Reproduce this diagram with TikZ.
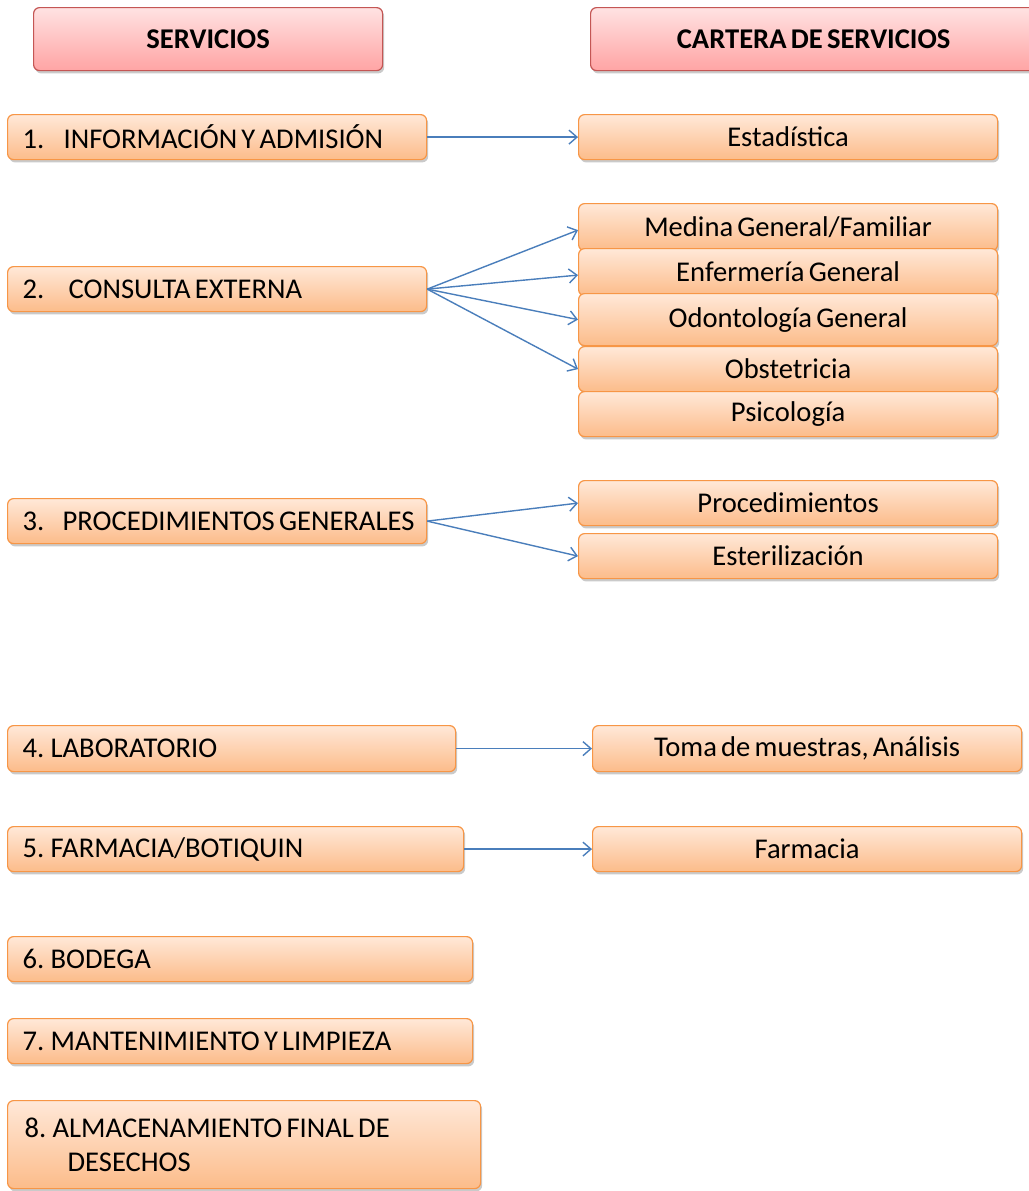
\documentclass[tikz,border=0pt]{standalone}
\usepackage{fontspec}
\setmainfont{Carlito}[WordSpace=0.65]
\usetikzlibrary{%
  arrows.meta,%
  shadows,%
  positioning%
}
\definecolor{boxline}{RGB}{247,150,70}
\definecolor{boxtop}{RGB}{255,232,216}
\definecolor{boxbottom}{RGB}{252,188,138}
\definecolor{hdrline}{RGB}{196,86,84}
\definecolor{hdrtop}{RGB}{255,226,226}
\definecolor{hdrbottom}{RGB}{255,164,164}
\definecolor{linkblue}{RGB}{74,126,187}

\begin{document}
\begin{tikzpicture}
[x=0.5pt, y=-0.5pt, line width=0.6pt,
font=\fontsize{14.3}{17}\selectfont,
servbox/.style={rectangle, draw=boxline, rounded corners=3pt, top color=boxtop, bottom color=boxbottom,
  drop shadow={shadow xshift=0.8pt, shadow yshift=-1.4pt, opacity=0.35, fill=black!60},
  anchor=north west, inner sep=0pt, minimum height=22.5pt},
leftbox/.style={servbox, align=flush left, inner xsep=7.5pt, text width=#1},
hdrbox/.style={servbox, draw=hdrline, top color=hdrtop, bottom color=hdrbottom, minimum height=31.5pt, font=\fontsize{14.3}{17}\selectfont\bfseries},
link/.style={draw=linkblue, line width=0.7pt, -{Straight Barb[length=4pt, width=7pt]}}]

\useasboundingbox (0,0) rectangle (1029,1191);

% headers
\node[hdrbox, minimum width=174.5pt] (servicios) at (33,7) {SERVICIOS};
\node[hdrbox, minimum width=223pt] (cartera) at (590,7) {CARTERA DE SERVICIOS};

% left column
\node[leftbox=194.5pt] (info) at (7,114) {\mbox{\makebox[20.5pt][l]{1.}INFORMACIÓN Y ADMISIÓN}};
\node[leftbox=194.5pt] (consulta) at (7,266) {\mbox{\makebox[23pt][l]{2.}CONSULTA EXTERNA}};
\node[leftbox=194.5pt] (proced) at (7,498) {\mbox{\makebox[20pt][l]{3.}PROCEDIMIENTOS GENERALES}};
\node[leftbox=209pt, minimum height=23pt] (lab) at (7,725) {4. LABORATORIO};
\node[leftbox=213pt] (farmbot) at (7,826) {5. FARMACIA/BOTIQUIN};
\node[leftbox=217.5pt] (bodega) at (7,936) {6. BODEGA};
\node[leftbox=217.5pt] (mant) at (7,1018) {7. MANTENIMIENTO Y LIMPIEZA};
\node[leftbox=219.5pt, inner xsep=8.5pt, minimum height=44pt] (desechos) at (7,1100)
  {8. ALMACENAMIENTO FINAL DE\\\hspace*{21.5pt}DESECHOS};

% right column
\node[servbox, minimum width=209.5pt] (estad) at (578,114) {Estadística};
\node[servbox, minimum width=209.5pt, minimum height=23.5pt] (medgen) at (578,203) {\raisebox{-1.5pt}{Medina General/Familiar}};
\node[servbox, minimum width=209.5pt, minimum height=23.5pt] (enferm) at (578,248) {\raisebox{-1.5pt}{Enfermería General}};
\node[servbox, minimum width=209.5pt, minimum height=26pt] (odonto) at (578,293) {Odontología General};
\node[servbox, minimum width=209.5pt] (obstet) at (578,346) {Obstetricia};
\node[servbox, minimum width=209.5pt] (psico) at (578,391) {Psicología};
\node[servbox, minimum width=209.5pt] (procs) at (578,480) {Procedimientos};
\node[servbox, minimum width=209.5pt] (esteril) at (578,533) {Esterilización};
\node[servbox, minimum width=214.5pt, minimum height=23pt] (muestras) at (592,725) {Toma de muestras, Análisis};
\node[servbox, minimum width=214.5pt] (farmacia) at (592,826) {Farmacia};

% connectors
\draw[link] (info.east) -- (estad.west);
\draw[link] (consulta.east) -- ([yshift=-1.5pt]medgen.west);
\draw[link] (consulta.east) -- ([yshift=-1.5pt]enferm.west);
\draw[link] (consulta.east) -- (odonto.west);
\draw[link] (consulta.east) -- (obstet.west);
\draw[link] (proced.east) -- (procs.west);
\draw[link] (proced.east) -- (esteril.west);
\draw[link] (lab.east) -- (muestras.west);
\draw[link] (farmbot.east) -- (farmacia.west);
\end{tikzpicture}
\end{document}
